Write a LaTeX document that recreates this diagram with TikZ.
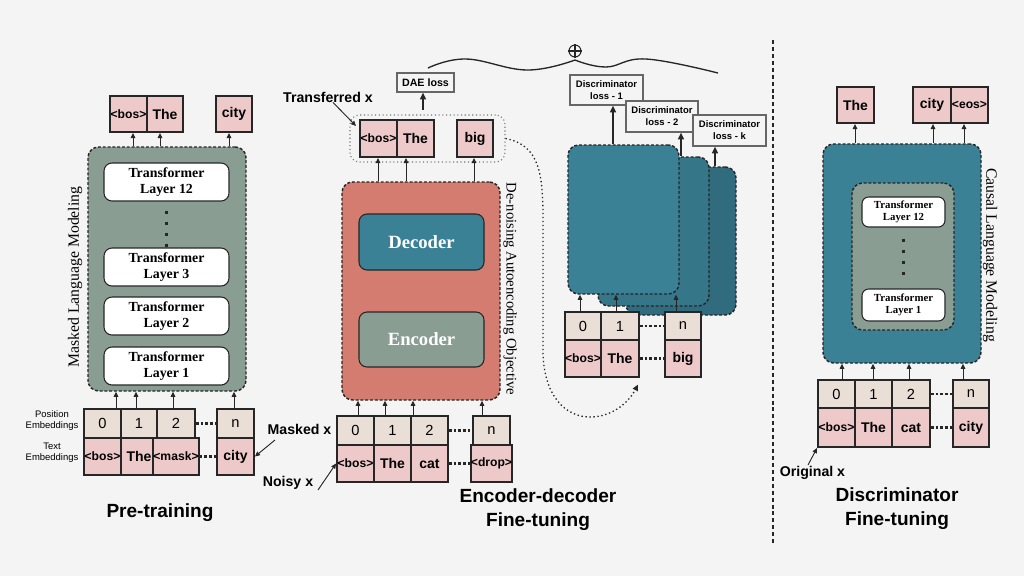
\documentclass[tikz,border=0pt]{standalone}
\usepackage{fontspec}
\setmainfont{Liberation Serif}
\setsansfont{Liberation Sans}
\usetikzlibrary{arrows.meta}
\definecolor{bg}{HTML}{F4F4F4}
\definecolor{sage}{HTML}{899D93}
\definecolor{salmon}{HTML}{D47C6F}
\definecolor{teala}{HTML}{3B8196}
\definecolor{tealb}{HTML}{367689}
\definecolor{tealc}{HTML}{316C7E}
\definecolor{posc}{HTML}{EADFD6}
\definecolor{tokc}{HTML}{EEC9C9}
\definecolor{edge}{HTML}{262626}
\newcommand\mybox[7]{\node[#1,minimum width={(#5-#3)*0.75pt},minimum height={(#6-#4)*0.75pt}] (#2) at ({(#3+#5)/2},{(#4+#6)/2}) {#7};}
\newcommand\va[3]{\draw[arr] (#1,0 |- #2) -- (#1,0 |- #3);}
\tikzset{
 tk/.style={draw=edge,line width=1.4pt,inner sep=0pt},
 posbox/.style={tk,fill=posc,font=\sffamily\fontsize{11}{11}\selectfont},
 wd/.style={tk,fill=tokc,font=\sffamily\bfseries\fontsize{10.5}{10.5}\selectfont},
 sw/.style={tk,fill=tokc,font=\sffamily\bfseries\fontsize{9.1}{9.1}\selectfont},
 bigbox/.style={draw=edge,line width=1.1pt,dash pattern=on 2.2pt off 1.4pt,rounded corners=8pt,inner sep=0pt},
 layerbox/.style={draw=edge,fill=white,line width=0.8pt,rounded corners=6pt,align=center,inner sep=0pt,font=\bfseries\fontsize{10.4}{12}\selectfont},
 slayer/.style={layerbox,rounded corners=5pt,font=\bfseries\fontsize{8.1}{9}\selectfont},
 coder/.style={draw=edge,line width=0.8pt,rounded corners=6pt,inner sep=0pt,text=white,font=\bfseries\fontsize{14}{14}\selectfont},
 lossbox/.style={draw=black!60,fill=bg,line width=0.9pt,align=center,inner sep=0pt,font=\sffamily\bfseries\fontsize{7.1}{9}\selectfont},
 arr/.style={draw=edge,line width=0.7pt,-{Triangle[length=3.8pt,width=3.4pt]}},
 barr/.style={draw=edge,line width=1.1pt,-{Triangle[length=5pt,width=4.4pt]}},
 dotl/.style={draw=edge,line width=2pt,dash pattern=on 2pt off 1.5pt},
 vdots/.style={draw=edge,line width=2.2pt,dash pattern=on 2.25pt off 6pt},
 lab/.style={font=\sffamily\bfseries\fontsize{10.6}{12}\selectfont,inner sep=0pt},
 emb/.style={font=\sffamily\fontsize{7.1}{8.3}\selectfont,align=center,inner sep=0pt},
 ttl/.style={font=\sffamily\bfseries\fontsize{14.3}{18}\selectfont,align=center,inner sep=0pt},
 rot/.style={font=\fontsize{11.8}{12}\selectfont,inner sep=0pt},
}
\begin{document}
\begin{tikzpicture}[x=0.75pt,y=-0.75pt]
\fill[bg] (0,0) rectangle (1024,576);
\useasboundingbox (0,0) rectangle (1024,576);

% ---------------- Pre-training ----------------
\mybox{sw}{po1}{110}{96}{147}{132}{<bos>}
\mybox{wd}{po2}{147}{96}{183}{132}{The}
\mybox{wd}{po3}{216}{96}{252}{132}{city}
\mybox{bigbox,fill=sage}{gbox}{88}{147}{246}{391}{}
\mybox{layerbox}{L12}{104}{163}{229}{201}{Transformer\\Layer 12}
\mybox{layerbox}{L3}{104}{248}{229}{286}{Transformer\\Layer 3}
\mybox{layerbox}{L2}{104}{297}{229}{335}{Transformer\\Layer 2}
\mybox{layerbox}{L1}{104}{347}{229}{385}{Transformer\\Layer 1}
\draw[vdots] (166.5,210.5) -- (166.5,247);
\node[rot,rotate=90] (mlm) at (75,277) {Masked Language Modeling};
\mybox{posbox}{pp0}{84}{409}{121}{438}{0}
\mybox{posbox}{pp1}{121}{409}{157}{438}{1}
\mybox{posbox}{pp2}{157}{409}{195}{438}{2}
\mybox{posbox}{ppn}{217}{409}{254}{438}{n}
\mybox{sw}{pt0}{84}{438}{121}{475}{<bos>}
\mybox{wd}{pt1}{121}{438}{157}{475}{The}
\mybox{sw}{pt2}{157}{438}{195}{475}{<mask>}
\mybox{wd}{ptn}{217}{438}{254}{475}{city}
\draw[dotl] (pp2.east) -- (ppn.west);
\draw[dotl] (pt2.east) -- (ptn.west);
\va{133}{gbox.north}{po1.south}
\va{160}{gbox.north}{po2.south}
\va{229}{gbox.north}{po3.south}
\va{116}{pp0.north}{gbox.south}
\va{136}{pp1.north}{gbox.south}
\va{173}{pp2.north}{gbox.south}
\va{234}{ppn.north}{gbox.south}
\node[emb] (lpos) at (52,421) {Position\\Embeddings};
\node[emb] (ltxt) at (52,453) {Text\\Embeddings};
\node[ttl] (t1) at (160,513) {Pre-training};

% ---------------- Encoder-decoder ----------------
\node[lab] (trx) at (328,97) {Transferred x};
\mybox{draw=black!55,dotted,line width=0.8pt,rounded corners=7pt,inner sep=0pt}{tenc}{350}{115}{505}{162}{}
\mybox{sw}{eo1}{360}{120}{397}{157}{<bos>}
\mybox{wd}{eo2}{397}{120}{434}{157}{The}
\mybox{wd}{eo3}{457}{120}{493}{157}{big}
\coordinate (tre) at (356,126);
\draw[arr] (333,0 |- trx.south) -- (tre);
\mybox{lossbox,font=\sffamily\bfseries\fontsize{8}{8}\selectfont}{dae}{397}{73}{454}{92}{DAE loss}
\coordinate (daein) at (423,110);
\draw[barr] (daein) -- (daein |- dae.south);
\mybox{bigbox,fill=salmon}{rbox}{342}{182}{500}{400}{}
\mybox{coder,fill=teala}{dec}{359}{214}{484}{270}{Decoder}
\mybox{coder,fill=sage}{enc}{359}{312}{484}{367}{Encoder}
\node[rot,rotate=-90,font=\fontsize{11}{11}\selectfont] (dael) at (510,289) {De-noising Autoencoding Objective};
\va{378}{rbox.north}{eo1.south}
\va{406}{rbox.north}{eo2.south}
\va{474}{rbox.north}{eo3.south}
\mybox{posbox}{ep0}{337}{416}{374}{445}{0}
\mybox{posbox}{ep1}{374}{416}{411}{445}{1}
\mybox{posbox}{ep2}{411}{416}{448}{445}{2}
\mybox{posbox}{epn}{473}{416}{510}{445}{n}
\mybox{sw}{et0}{337}{445}{374}{482}{<bos>}
\mybox{wd}{et1}{374}{445}{411}{482}{The}
\mybox{wd}{et2}{411}{445}{448}{482}{cat}
\mybox{sw}{etn}{473}{445}{510}{482}{<drop>}
\draw[dotl] (ep2.east) -- (epn.west);
\draw[dotl] (et2.east) -- (etn.west);
\va{358}{ep0.north}{rbox.south}
\va{385}{ep1.north}{rbox.south}
\va{413}{ep2.north}{rbox.south}
\va{482}{epn.north}{rbox.south}
\node[lab] (mx) at (299.5,429) {Masked x};
\node[lab] (nx) at (288,483) {Noisy x};
\coordinate (mxs) at (275,440);
\draw[arr] (mxs) -- (ptn.east);
\coordinate (nxs) at (318,490);
\draw[arr] (nxs) -- (et0.west);
\node[ttl] (t2) at (538,510) {Encoder-decoder\\Fine-tuning};

% sum curve
\coordinate (cs) at (428,68);
\coordinate (cm) at (575,60);
\coordinate (ce) at (718,73);
\draw[edge,line width=1pt] plot[smooth,tension=0.7] coordinates {(cs) (466,59) (527,70) (cm)};
\draw[edge,line width=1pt] plot[smooth,tension=0.7] coordinates {(cm) (606,67) (646,59) (ce)};
\node[circle,draw=edge,line width=0.8pt,minimum size=9pt,inner sep=0pt] (oplus) at (575,51) {};
\draw[edge,line width=0.8pt] (oplus.north) -- (oplus.south) (oplus.west) -- (oplus.east);

% ---------------- Discriminators ----------------
\mybox{bigbox,fill=tealc}{db3}{626}{167}{736}{315}{}
\mybox{bigbox,fill=tealb}{db2}{598}{157}{709}{306}{}
\mybox{bigbox,fill=teala}{db1}{568}{145}{679}{294}{}
\mybox{lossbox}{l1}{570}{75}{643}{105}{Discriminator\\loss - 1}
\mybox{lossbox}{l2}{626}{101}{698}{132}{Discriminator\\loss - 2}
\mybox{lossbox}{lk}{693}{115}{766}{146}{Discriminator\\loss - k}
\draw[barr] (613,0 |- db1.north) -- (613,0 |- l1.south);
\draw[barr] (681,0 |- db2.north) -- (681,0 |- l2.south);
\draw[barr] (715,0 |- db3.north) -- (715,0 |- lk.south);
\mybox{posbox}{dp0}{565}{312}{601}{340}{0}
\mybox{posbox}{dp1}{601}{312}{639}{340}{1}
\mybox{posbox}{dpn}{665}{312}{701}{340}{n}
\mybox{sw}{dt0}{565}{340}{601}{377}{<bos>}
\mybox{wd}{dt1}{601}{340}{639}{377}{The}
\mybox{wd}{dtn}{665}{340}{701}{377}{big}
\draw[dotl] (dp1.east) -- (dpn.west);
\draw[dotl] (dt1.east) -- (dtn.west);
\va{580}{dp0.north}{db1.south}
\va{616}{dp1.north}{db1.south}
\va{676}{dpn.north}{db1.south}
\draw[edge,line width=1pt,dotted,-{Triangle[length=4.5pt,width=4pt]}] (tenc.east) .. controls (540,145) and (543,175) .. (543,220) -- (543,350) .. controls (543,395) and (565,418) .. (592,417) .. controls (615,416) and (630,400) .. ([xshift=-1.5pt,yshift=-5pt]dt1.south east);

% separator
\draw[edge,line width=2pt,dash pattern=on 3pt off 2.2pt] (773,40) -- (773,545);

% ---------------- Discriminator fine-tuning ----------------
\mybox{wd}{ro1}{837}{87}{874}{123}{The}
\mybox{wd}{ro2}{913}{87}{951}{123}{city}
\mybox{sw}{ro3}{951}{87}{988}{123}{<eos>}
\mybox{bigbox,fill=teala}{rt}{823}{144}{981}{363}{}
\mybox{bigbox,fill=sage}{rg}{852}{183}{954}{330}{}
\mybox{slayer}{rL12}{862}{197}{945}{227}{Transformer\\Layer 12}
\mybox{slayer}{rL1}{862}{289}{945}{321}{Transformer\\Layer 1}
\draw[vdots] (903.5,238.5) -- (903.5,275);
\node[rot,rotate=-90] (clm) at (990,255) {Causal Language Modeling};
\va{855}{rt.north}{ro1.south}
\va{933}{rt.north}{ro2.south}
\va{964}{rt.north}{ro3.south}
\mybox{posbox}{rp0}{818}{380}{855}{408}{0}
\mybox{posbox}{rp1}{855}{380}{892}{408}{1}
\mybox{posbox}{rp2}{892}{380}{930}{408}{2}
\mybox{posbox}{rpn}{953}{380}{989}{408}{n}
\mybox{sw}{rt0}{818}{408}{855}{447}{<bos>}
\mybox{wd}{rt1}{855}{408}{892}{447}{The}
\mybox{wd}{rt2}{892}{408}{930}{447}{cat}
\mybox{wd}{rtn}{953}{408}{989}{447}{city}
\draw[dotl] (rp2.east) -- (rpn.west);
\draw[dotl] (rt2.east) -- (rtn.west);
\va{842}{rp0.north}{rt.south}
\va{873}{rp1.north}{rt.south}
\va{909}{rp2.north}{rt.south}
\va{963}{rpn.north}{rt.south}
\node[lab] (ox) at (812.5,473) {Original x};
\coordinate (oxs) at (808,465);
\draw[arr] (oxs) -- (rt0.south west);
\node[ttl] (t3) at (897,509) {Discriminator\\Fine-tuning};
\end{tikzpicture}
\end{document}
